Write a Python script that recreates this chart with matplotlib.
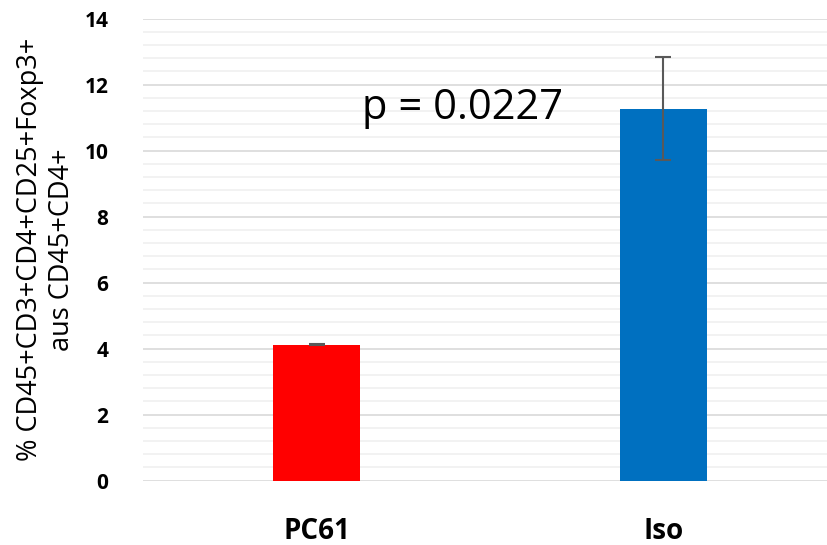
import matplotlib
matplotlib.use("Agg")
import matplotlib.pyplot as plt
from matplotlib.ticker import MultipleLocator

categories = ["PC61", "Iso"]
means = [4.12, 11.27]
errors = [0.02, 1.56]
bar_colors = ["#ff0000", "#0070c0"]
p_text = "p = 0.0227"

plt.rcParams["font.family"] = ["Open Sans", "DejaVu Sans"]

fig = plt.figure(figsize=(8.27, 5.45), dpi=100)
ax = fig.add_axes([0.173, 0.118, 0.839, 0.848])

x = range(len(categories))
ax.bar(x, means, width=0.25, color=bar_colors, zorder=3,
       yerr=errors, error_kw=dict(ecolor="#595959", elinewidth=1.5, capsize=6, capthick=1.5, zorder=4))

ax.set_xlim(-0.5, 1.5)
ax.set_ylim(0, 14)
ax.yaxis.set_major_locator(MultipleLocator(2))
ax.yaxis.set_minor_locator(MultipleLocator(0.4))
ax.grid(axis="y", which="major", color="#d9d9d9", linewidth=1.2, zorder=0)
ax.grid(axis="y", which="minor", color="#f0f0f0", linewidth=1.2, zorder=0)
for s in ax.spines.values():
    s.set_visible(False)
ax.tick_params(axis="both", which="both", length=0)
ax.tick_params(axis="y", pad=25, labelsize=15)
ax.tick_params(axis="x", pad=26, labelsize=20)
ax.set_xticks(list(x))
ax.set_xticklabels(categories, fontweight="bold")
for lab in ax.get_yticklabels():
    lab.set_fontweight("bold")

ax.set_ylabel("% CD45+CD3+CD4+CD25+Foxp3+\naus CD45+CD4+", fontsize=19.5, labelpad=6)
ax.text(0.42, 11.3, p_text, fontsize=30, ha="center", va="center")

fig.savefig("out.png", dpi=100)
